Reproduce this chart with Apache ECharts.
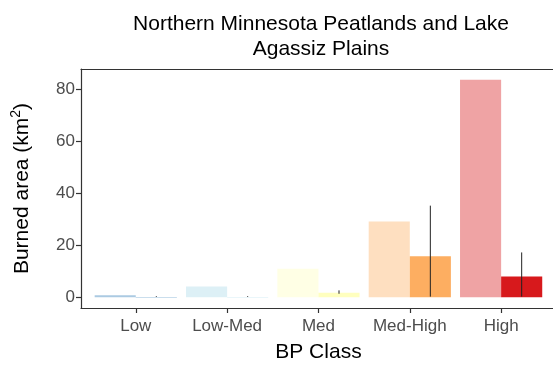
<!DOCTYPE html>
<html>
<head>
<meta charset="utf-8">
<script src="https://cdn.jsdelivr.net/npm/echarts@6/dist/echarts.min.js"></script>
<style>html,body{margin:0;padding:0;background:#fff}#c{width:553px;height:369px}</style>
</head>
<body>
<div id="c"></div>
<script>
const categories = ['Low', 'Low-Med', 'Med', 'Med-High', 'High'];
const firstValues = [0.7, 4.1, 10.9, 29.1, 83.6];
const secondValues = [0.1, 0.1, 1.7, 15.7, 7.9];
const errLow = [0.1, 0.1, 1.3, 0.2, 0.2];
const errHigh = [0.4, 0.4, 2.6, 35.2, 17.2];
const palette = ['#2c7bb6', '#abd9e9', '#ffffbf', '#fdae61', '#d7191c'];
const yTicks = [0, 20, 40, 60, 80];
const title = 'Northern Minnesota Peatlands and Lake\nAgassiz Plains';

const FONT = 'Liberation Sans, Arial, sans-serif';
const ymin = -4.18, ymax = 87.78;
const frameLine = {show: true, onZero: false, lineStyle: {color: '#333', width: 1.2}};

const chart = echarts.init(document.getElementById('c'), null, {renderer: 'canvas'});
const option = {
  animation: false,
  backgroundColor: '#fff',
  title: {
    text: title, left: 316, top: 7, textAlign: 'center',
    textStyle: {fontFamily: FONT, fontSize: 21, fontWeight: 'normal', color: '#000', lineHeight: 25}
  },
  grid: [
    {left: 81, top: 69, width: 480, height: 239, outerBoundsMode: 'none', containLabel: false},
    {left: 90.1, top: 69, width: 456.7, height: 239, outerBoundsMode: 'none', containLabel: false}
  ],
  xAxis: [
    {gridIndex: 0, type: 'value', min: 0, max: 1, position: 'bottom',
     axisLine: frameLine, axisTick: {show: false}, axisLabel: {show: false}, splitLine: {show: false}},
    {
      gridIndex: 1, type: 'category', data: categories,
      axisLine: {show: false, onZero: false},
      axisTick: {show: true, alignWithLabel: true, interval: 0, length: 5, lineStyle: {color: '#333', width: 1.2}},
      axisLabel: {fontFamily: FONT, fontSize: 17, color: '#4d4d4d', margin: 10, interval: 0, hideOverlap: false},
      name: 'BP Class', nameLocation: 'middle', nameGap: 34,
      nameTextStyle: {fontFamily: FONT, fontSize: 21, color: '#000'}
    },
    {gridIndex: 0, type: 'value', min: 0, max: 1, position: 'top',
     axisLine: frameLine, axisTick: {show: false}, axisLabel: {show: false}, splitLine: {show: false}}
  ],
  yAxis: [
    {
      gridIndex: 0, type: 'value', min: ymin, max: ymax,
      axisLine: frameLine,
      splitLine: {show: false},
      axisTick: {show: true, length: 5, lineStyle: {color: '#333', width: 1.2}, customValues: yTicks},
      axisLabel: {fontFamily: FONT, fontSize: 17, color: '#4d4d4d', margin: 6, customValues: yTicks},
      name: '{a|Burned area (km}{s|2}{a|)}', nameLocation: 'middle', nameGap: 48, nameRotate: 90,
      nameTextStyle: {
        fontFamily: FONT, fontSize: 21, color: '#000',
        rich: {
          a: {fontFamily: FONT, fontSize: 21, color: '#000', lineHeight: 24, verticalAlign: 'bottom'},
          s: {fontFamily: FONT, fontSize: 14, color: '#000', lineHeight: 24, verticalAlign: 'top'}
        }
      }
    },
    {gridIndex: 1, type: 'value', min: ymin, max: ymax, show: false}
  ],
  series: [
    {
      type: 'bar', xAxisIndex: 1, yAxisIndex: 1, barWidth: '45%', barGap: '0%',
      data: firstValues.map((v, i) => ({value: v, itemStyle: {color: palette[i], opacity: 0.4}}))
    },
    {
      type: 'bar', xAxisIndex: 1, yAxisIndex: 1, barWidth: '45%', barGap: '0%',
      data: secondValues.map((v, i) => ({value: v, itemStyle: {color: palette[i]}}))
    },
    {
      type: 'custom', xAxisIndex: 1, yAxisIndex: 1, z: 10,
      data: categories.map((c, i) => [i, errLow[i], errHigh[i]]),
      renderItem: function (params, api) {
        const idx = api.value(0);
        const lo = api.coord([idx, api.value(1)]);
        const hi = api.coord([idx, api.value(2)]);
        const off = api.size([1, 0])[0] * 0.225;
        const x = lo[0] + off;
        return {
          type: 'line',
          shape: {x1: x, y1: lo[1], x2: x, y2: hi[1]},
          style: {stroke: '#222', lineWidth: 1}
        };
      }
    }
  ]
};
chart.setOption(option);
</script>
</body>
</html>
